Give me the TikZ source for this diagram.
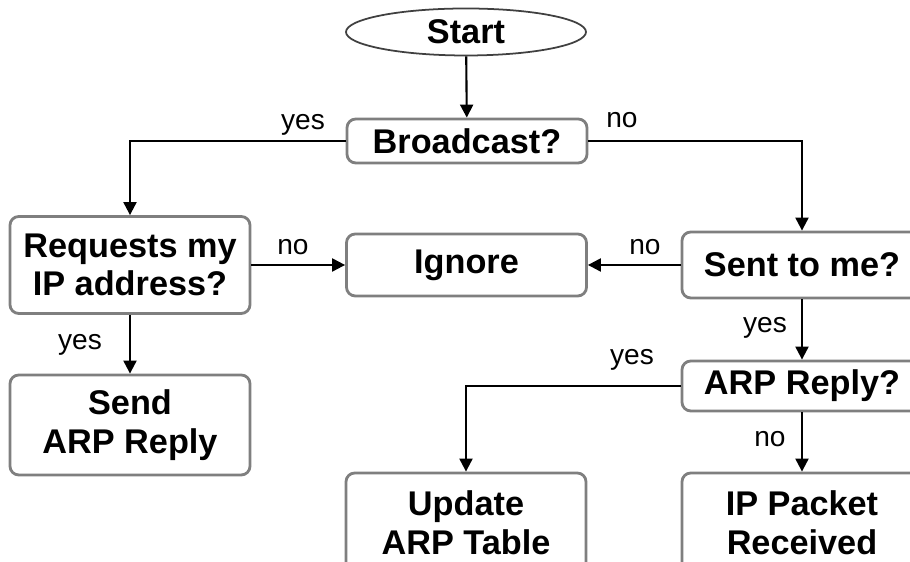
\documentclass[tikz,border=0pt]{standalone}
\usepackage{fontspec}
\setmainfont{Liberation Sans}
\usetikzlibrary{arrows.meta,shapes.geometric}
\definecolor{ink}{HTML}{000000}
\definecolor{edge}{HTML}{7F7F7F}
\tikzset{
  basebox/.style={draw=edge,fill=white,line width=1.6pt,rounded corners=5pt,align=center,text=ink,font=\fontsize{19.5}{22}\selectfont\bfseries,inner sep=2pt},
  arrow/.style={-{Triangle[length=2.6mm,width=2.6mm]},line width=1.2pt,draw=ink},
  tag/.style={font=\fontsize{16}{18}\selectfont,text=ink}
}

\begin{document}
\begin{tikzpicture}[
        x=1cm,y=1cm,
        blk/.style={basebox,minimum width=4.80cm},
        oval/.style={ellipse,draw=ink!75,line width=1pt,fill=white,text=ink,font=\fontsize{19.5}{22}\selectfont\bfseries,minimum width=4.80cm,minimum height=0.94cm,inner sep=0pt}
      ]
        \useasboundingbox (0,0) rectangle (18.20,11.24);
        \clip (0,0) rectangle (18.20,11.24);

        \node[oval] (start) at (9.32,10.60) {Start};
        \node[blk,minimum height=0.88cm] (bcast) at (9.34,8.42) {Broadcast?};
        \node[blk,minimum height=1.94cm] (req) at (2.60,5.94) {Requests my\\IP address?};
        \node[blk,minimum height=1.24cm] (ignore) at (9.33,5.94) {Ignore};
        \node[blk,minimum height=1.32cm] (sent) at (16.04,5.94) {Sent to me?};
        \node[blk,minimum height=1.00cm] (arp) at (16.04,3.52) {ARP Reply?};
        \node[blk,minimum height=2.00cm] (send) at (2.60,2.74) {Send\\ARP Reply};
        \node[blk,minimum height=2.00cm] (update) at (9.32,0.78) {Update\\ARP Table};
        \node[blk,minimum height=2.00cm] (ippkt) at (16.04,0.78) {IP Packet\\Received};

        \draw[arrow] (start) -- (bcast);
        \draw[arrow] (bcast.west) -| (req.north);
        \draw[arrow] (bcast.east) -| (sent.north);
        \draw[arrow] (req.east) -- (ignore.west);
        \draw[arrow] (sent.west) -- (ignore.east);
        \draw[arrow] (req) -- (send);
        \draw[arrow] (sent) -- (arp);
        \draw[arrow] (arp.west) -| (update.north);
        \draw[arrow] (arp) -- (ippkt);

        \node[tag] (l1) at (6.06,8.74) {yes};
        \node[tag] (l2) at (12.44,8.84) {no};
        \node[tag] (l3) at (5.86,6.30) {no};
        \node[tag] (l4) at (12.90,6.30) {no};
        \node[tag] (l5) at (1.60,4.34) {yes};
        \node[tag] (l6) at (15.30,4.68) {yes};
        \node[tag] (l7) at (12.64,4.04) {yes};
        \node[tag] (l8) at (15.40,2.46) {no};
      \end{tikzpicture}
\end{document}
